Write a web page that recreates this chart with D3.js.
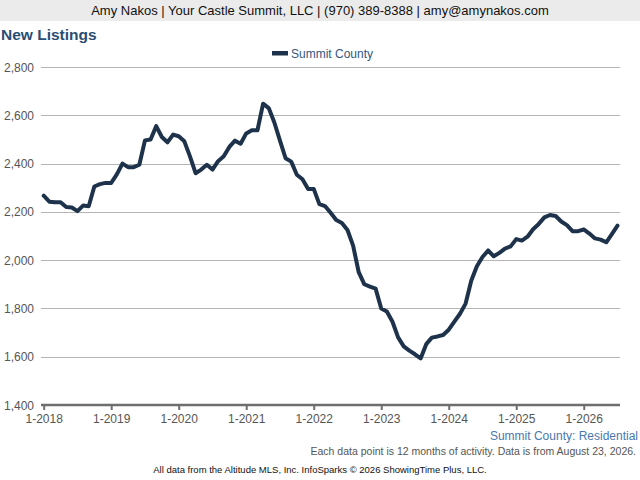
<!DOCTYPE html>
<html>
<head>
<meta charset="utf-8">
<script src="https://cdn.jsdelivr.net/npm/d3@7"></script>
<style>
  body { margin: 0; background: #fff; }
  svg { display: block; font-family: "Liberation Sans", Arial, sans-serif; }
</style>
</head>
<body>
<div id="chart"></div>
<script>
const config = {
    width: 640,
    height: 480,
    plotLeft: 43.7,
    plotRight: 617.5,
    gridRight: 620,
    plotTop: 67,
    plotBottom: 405
};

// monthly values, 1-2018 through 7-2026
const startYear = 2018;
const listings = [
    2267, 2242, 2240, 2240, 2220, 2218, 2203, 2226, 2223, 2305, 2315, 2320,
    2320, 2355, 2400, 2385, 2385, 2395, 2496, 2500, 2555, 2510, 2488, 2520,
    2513, 2492, 2430, 2360, 2375, 2395, 2375, 2410, 2430, 2469, 2495, 2482,
    2525, 2538, 2538, 2648, 2630, 2570, 2495, 2422, 2408, 2354, 2335, 2295,
    2295, 2232, 2224, 2196, 2166, 2154, 2125, 2060, 1950, 1900, 1890, 1882,
    1800, 1787, 1745, 1680, 1643, 1625, 1610, 1593, 1652, 1679, 1684, 1690,
    1712, 1745, 1778, 1820, 1915, 1975, 2013, 2040, 2016, 2030, 2048, 2057,
    2087, 2081, 2097, 2128, 2150, 2177, 2187, 2183, 2160, 2145, 2120, 2120,
    2127, 2110, 2090, 2085, 2074, 2108, 2143
];
const xTickLabels = ['1-2018', '1-2019', '1-2020', '1-2021', '1-2022', '1-2023', '1-2024', '1-2025', '1-2026'];
const yTicks = [1400, 1600, 1800, 2000, 2200, 2400, 2600, 2800];
const seriesName = 'Summit County';

const lineColor = '#1e334b';

const svg = d3.select('#chart')
    .append('svg')
    .attr('width', config.width)
    .attr('height', config.height);

// header bar
svg.append('rect')
    .attr('x', 0).attr('y', 0)
    .attr('width', config.width).attr('height', 21)
    .attr('fill', '#ebebeb');

svg.append('text')
    .attr('x', config.width / 2)
    .attr('y', 15)
    .attr('text-anchor', 'middle')
    .attr('font-size', '13px')
    .attr('fill', '#111')
    .text('Amy Nakos | Your Castle Summit, LLC | (970) 389-8388 | amy@amynakos.com');

svg.append('text')
    .attr('x', 1)
    .attr('y', 40)
    .attr('font-size', '15.5px')
    .attr('font-weight', 'bold')
    .attr('fill', '#2a4d73')
    .text('New Listings');

const xScale = d3.scaleLinear()
    .domain([0, listings.length - 1])
    .range([config.plotLeft, config.plotRight]);

const yScale = d3.scaleLinear()
    .domain([1400, 2800])
    .range([config.plotBottom, config.plotTop]);

// gridlines
svg.append('g')
    .selectAll('line')
    .data(yTicks.filter(d => d > 1400))
    .join('line')
    .attr('x1', 41)
    .attr('x2', config.gridRight)
    .attr('y1', d => Math.round(yScale(d)) + 0.5)
    .attr('y2', d => Math.round(yScale(d)) + 0.5)
    .attr('stroke', '#b4b4b4')
    .attr('stroke-width', 1);

// y labels
svg.append('g')
    .selectAll('text')
    .data(yTicks)
    .join('text')
    .attr('x', 34)
    .attr('y', d => yScale(d) + 4.5)
    .attr('text-anchor', 'end')
    .attr('font-size', '12px')
    .attr('fill', '#555')
    .text(d => d3.format(',')(d));

// x axis
const xAxis = d3.axisBottom(xScale)
    .tickValues(xTickLabels.map((d, i) => i * 12))
    .tickFormat((d, i) => xTickLabels[i])
    .tickSizeInner(5)
    .tickSizeOuter(0)
    .tickPadding(4);

svg.append('g')
    .attr('transform', `translate(0,${config.plotBottom})`)
    .call(xAxis)
    .call(g => g.select('.domain')
        .attr('d', `M41,0H${config.gridRight}`)
        .attr('stroke', '#6e6e6e')
        .attr('stroke-width', 2.5))
    .call(g => g.selectAll('.tick line')
        .attr('stroke', '#6e6e6e')
        .attr('stroke-width', 2))
    .call(g => g.selectAll('.tick text')
        .attr('font-family', '"Liberation Sans", Arial, sans-serif')
        .attr('font-size', '12px')
        .attr('fill', '#555'));

// legend
svg.append('rect')
    .attr('x', 272).attr('y', 51)
    .attr('width', 16).attr('height', 4.5)
    .attr('fill', lineColor);

svg.append('text')
    .attr('x', 291)
    .attr('y', 58)
    .attr('font-size', '12px')
    .attr('fill', '#34577f')
    .text(seriesName);

// line
const line = d3.line()
    .x((d, i) => xScale(i))
    .y(d => yScale(d));

svg.append('path')
    .datum(listings)
    .attr('fill', 'none')
    .attr('stroke', lineColor)
    .attr('stroke-width', 4)
    .attr('stroke-linejoin', 'round')
    .attr('stroke-linecap', 'round')
    .attr('d', line);

// footer texts
svg.append('text')
    .attr('x', 638)
    .attr('y', 440)
    .attr('text-anchor', 'end')
    .attr('font-size', '12px')
    .attr('fill', '#4a78ad')
    .text('Summit County: Residential');

svg.append('text')
    .attr('x', 636)
    .attr('y', 455)
    .attr('text-anchor', 'end')
    .attr('font-size', '10.5px')
    .attr('fill', '#555')
    .text('Each data point is 12 months of activity. Data is from August 23, 2026.');

svg.append('text')
    .attr('x', 320)
    .attr('y', 473)
    .attr('text-anchor', 'middle')
    .attr('font-size', '9.5px')
    .attr('fill', '#111')
    .text('All data from the Altitude MLS, Inc. InfoSparks © 2026 ShowingTime Plus, LLC.');
</script>
</body>
</html>
